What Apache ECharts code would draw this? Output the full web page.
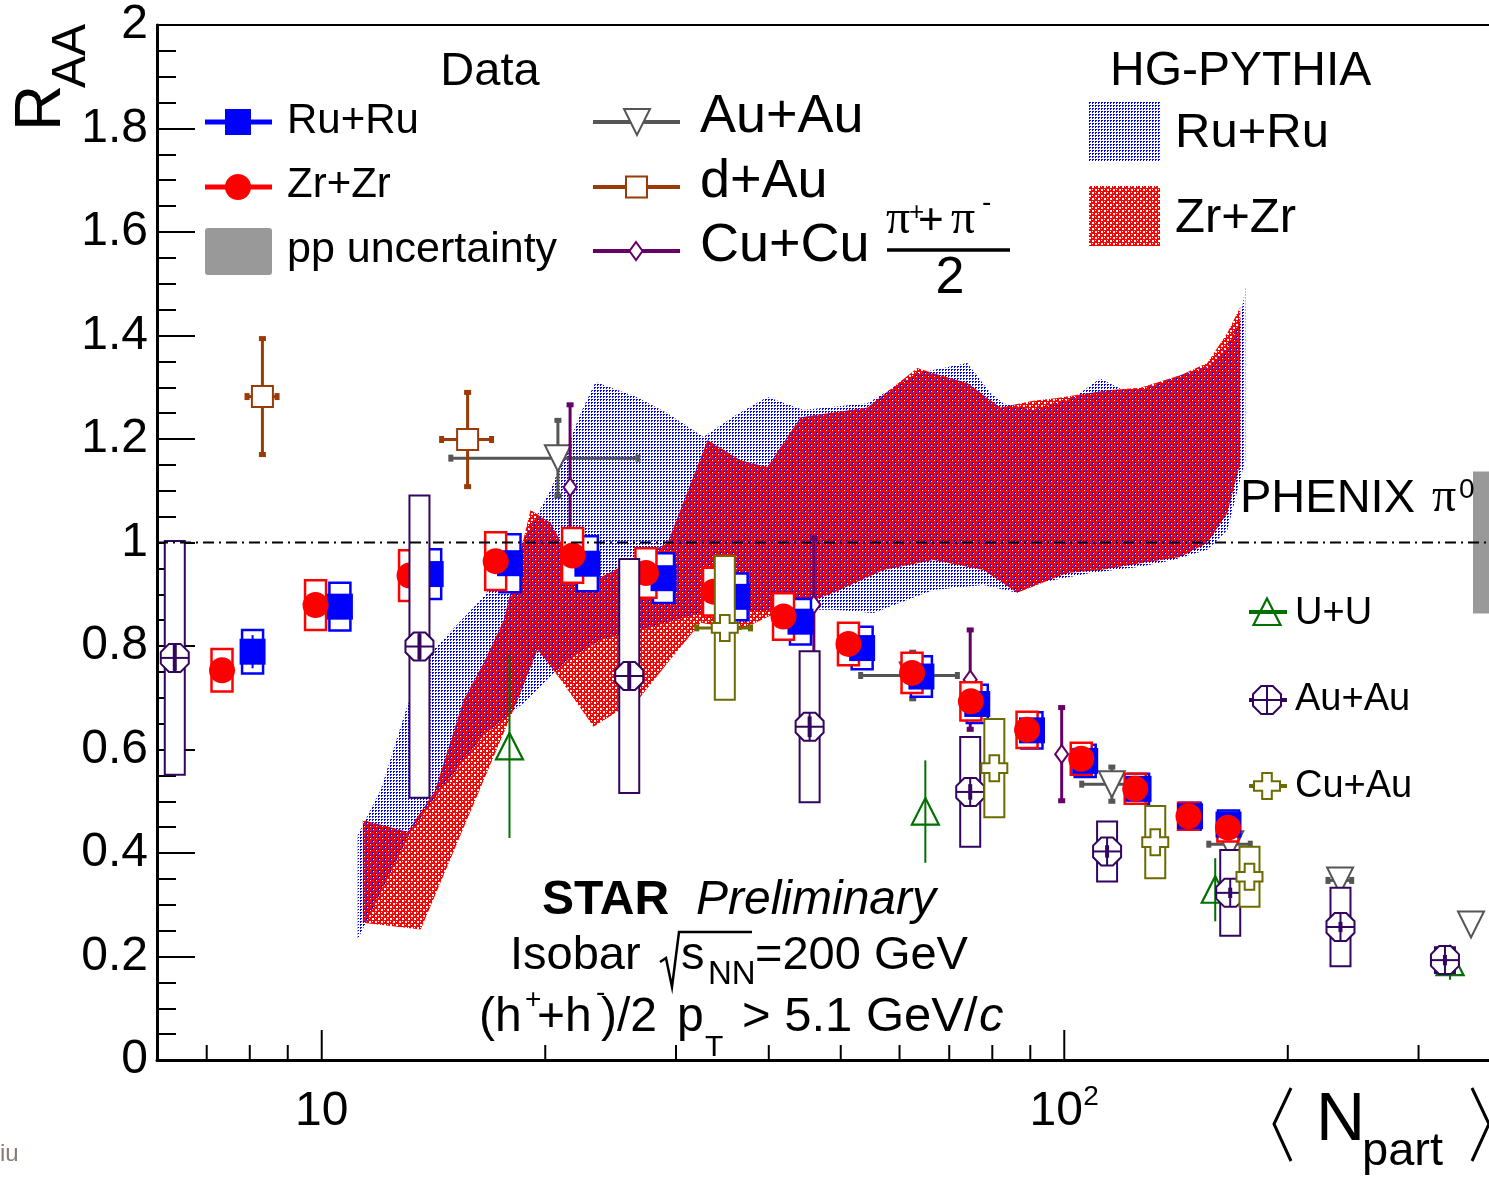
<!DOCTYPE html>
<html>
<head>
<meta charset="utf-8">
<script src="https://cdn.jsdelivr.net/npm/echarts@6/dist/echarts.min.js"></script>
<style>
  html, body { margin: 0; padding: 0; background: #ffffff; }
  #chart { width: 1489px; height: 1181px; }
</style>
</head>
<body>
<div id="chart"></div>
<script>
// ---------------- axis ranges and ticks ----------------
const xMin = 6, xMax = 385;
const yMin = 0, yMax = 2;
const xTickValues = [6, 7, 8, 9, 10, 20, 30, 40, 50, 60, 70, 80, 90, 100, 200, 300];
const xMajorTicks = [10, 100];
const xMajorLabels = ['10', '10^2'];

// ---------------- STAR isobar data (h+ + h-)/2, pT > 5.1 GeV/c ----------------
const ruNpart = [8.07, 10.58, 14.02, 17.93, 22.79, 28.86, 36.26, 44.13, 53.43, 64.21, 76.35, 90.47, 106.7, 125.9, 147.7, 166.4];
const ruRaa   = [0.789, 0.876, 0.939, 0.960, 0.959, 0.931, 0.895, 0.847, 0.796, 0.741, 0.688, 0.637, 0.578, 0.524, 0.471, 0.455];
const ruStat  = [0.032, 0.020, 0.020, 0.020, 0.020, 0.020, 0.018, 0.018, 0.016, 0.015, 0.014, 0.013, 0.012, 0.011, 0.010, 0.010];
const ruSys   = [0.042, 0.046, 0.048, 0.056, 0.053, 0.048, 0.045, 0.044, 0.041, 0.039, 0.037, 0.035, 0.031, 0.029, 0.026, 0.027];

const zrNpart = [7.34, 9.81, 13.13, 17.15, 21.77, 27.33, 33.70, 41.87, 51.21, 62.37, 74.86, 89.10, 105.4, 124.6, 147.0, 166.1];
const zrRaa   = [0.753, 0.879, 0.936, 0.964, 0.975, 0.941, 0.905, 0.857, 0.804, 0.748, 0.693, 0.638, 0.582, 0.524, 0.471, 0.449];
const zrStat  = [0.020, 0.020, 0.020, 0.020, 0.020, 0.020, 0.018, 0.018, 0.016, 0.015, 0.014, 0.013, 0.012, 0.011, 0.010, 0.010];
const zrSys   = [0.041, 0.048, 0.049, 0.056, 0.053, 0.048, 0.046, 0.045, 0.041, 0.039, 0.037, 0.035, 0.031, 0.029, 0.026, 0.027];

// ---------------- STAR reference systems ----------------
const auauNpart    = [20.8, 62.5, 115.9, 167.3, 235.2, 353.0];
const auauRaa      = [1.163, 0.743, 0.533, 0.417, 0.347, 0.262];
const auauErr      = [0.074, 0.046, 0.034, 0.030, 0.020, 0.010];
const auauNpartErr = [5.9, 9.4, 10.5, 11.0, 9.0, 0];

const dauNpart    = [8.32, 15.72];
const dauRaa      = [1.282, 1.199];
const dauErr      = [0.113, 0.092];
const dauNpartErr = [0.40, 1.24];

const cucuNpart = [21.6, 46.0, 74.7, 99.2];
const cucuRaa   = [1.107, 0.880, 0.735, 0.591];
const cucuErr   = [0.160, 0.130, 0.097, 0.091];

// ---------------- PHENIX pi0 ----------------
const uuNpart = [17.9, 65.0, 159.7, 330.8];
const uuRaa   = [0.606, 0.480, 0.329, 0.189];
const uuErr   = [0.177, 0.099, 0.061, 0.034];

const phxAuNpart = [6.34, 13.54, 25.95, 45.4, 74.7, 114.2, 167.3, 235.5, 325.6];
const phxAuRaa   = [0.777, 0.799, 0.742, 0.644, 0.518, 0.403, 0.323, 0.257, 0.193];
const phxAuStat  = [0.025, 0.025, 0.025, 0.020, 0.015, 0.012, 0.010, 0.010, 0.010];
const phxAuSys   = [0.226, 0.292, 0.226, 0.146, 0.106, 0.058, 0.083, 0.076, 0.025];

const cuauNpart    = [34.9, 80.5, 132.6, 177.6];
const cuauRaa      = [0.835, 0.564, 0.421, 0.354];
const cuauSys      = [0.139, 0.095, 0.070, 0.058];
const cuauNpartErr = [2.96, 0, 0, 0];

const phenixNormUnc = 0.137;

// ---------------- HG-PYTHIA bands: [Npart, R_AA] along upper and lower edges ----------------
const ruBandUpper = [[11.18,0.435],[12.01,0.522],[13.05,0.686],[14.15,0.793],[16.52,0.895],[18.53,0.995],[20.33,1.101],
  [22.32,1.250],[23.38,1.310],[26.54,1.281],[29.22,1.250],[32.67,1.204],[36.09,1.246],[39.83,1.281],[44.54,1.256],
  [54.31,1.269],[63.42,1.327],[74.04,1.347],[79.51,1.289],[82.78,1.269],[90.85,1.256],[102.8,1.279],[111.8,1.317],
  [120.1,1.294],[129.3,1.299],[143.3,1.323],[155.8,1.339],[165.8,1.378],[172.6,1.430],[175.3,1.493]];
const ruBandLower = [[11.18,0.233],[13.17,0.441],[14.46,0.522],[16.52,0.628],[18.94,0.696],[21.44,0.773],[23.74,0.812],
  [26.88,0.831],[32.37,0.864],[36.65,0.866],[44.13,0.870],[48.89,0.870],[55.33,0.864],[66.64,0.908],[77.81,0.918],
  [86.44,0.903],[92.83,0.922],[108.4,0.941],[126.6,0.953],[140.2,0.966],[155.8,0.986],[165.8,1.024],[175.3,1.159]];

const zrBandUpper = [[11.36,0.464],[13.05,0.441],[14.20,0.520],[15.53,0.696],[16.52,0.767],[17.58,0.850],[18.36,0.960],
  [19.11,1.063],[20.33,1.038],[21.64,0.966],[23.74,0.933],[29.22,0.999],[33.08,1.198],[36.65,1.159],[39.83,1.146],
  [44.13,1.242],[54.31,1.261],[63.42,1.337],[66.64,1.327],[74.04,1.308],[82.01,1.261],[90.85,1.274],[97.85,1.279],
  [114.3,1.294],[126.6,1.299],[143.3,1.323],[155.8,1.347],[165.8,1.405],[172.6,1.455]];
const zrBandLower = [[11.36,0.265],[13.59,0.252],[18.36,0.696],[19.53,0.793],[20.98,0.735],[23.23,0.644],[26.88,0.702],
  [29.22,0.767],[32.37,0.845],[36.65,0.831],[39.83,0.856],[48.89,0.903],[57.07,0.947],[66.64,0.966],[77.81,0.947],
  [86.44,0.903],[100.9,0.941],[111.8,0.947],[126.6,0.960],[143.3,0.972],[155.8,0.999],[165.8,1.057],[172.6,1.153]];

// ---------------- styling helpers ----------------
const SANS = '"Liberation Sans", Arial, Helvetica, sans-serif';
const SERIF = '"Liberation Serif", "Times New Roman", serif';
const C_RU = '#0000ff', C_ZR = '#ff0000', C_AUAU = '#555555', C_DAU = '#9a3a06',
      C_CUCU = '#660066', C_UU = '#007000', C_PHXAU = '#33055f', C_CUAU = '#6b6b00', C_GRAY = '#999999';

function tile(w, h, draw) {
  const c = document.createElement('canvas');
  c.width = w; c.height = h;
  draw(c.getContext('2d'));
  return c;
}
// dotted fill for the Ru+Ru model band
const bluePattern = tile(3, 3, g => {
  g.fillStyle = C_RU;
  g.fillRect(0, 0, 2, 1); g.fillRect(0, 1, 1, 1);
});
// checkered fill for the Zr+Zr model band
const redPattern = tile(6, 6, g => {
  g.fillStyle = C_ZR; g.fillRect(0, 0, 6, 6);
  g.clearRect(0, 0, 2, 2); g.clearRect(3, 3, 2, 2);
  g.clearRect(3, 0, 1, 1); g.clearRect(0, 3, 1, 1);
});

// text placed by its baseline
function txt(str, x, baseline, size, o = {}) {
  const k = o.serif ? 0.3375 : 0.3465;
  const font = (o.style ? o.style + ' ' : '') + size + 'px ' + (o.serif ? SERIF : SANS);
  const al = o.align || 'left';
  return {
    type: 'text', x: x, y: baseline - k * size, z: 100,
    style: { text: str, font: font, fill: o.color || '#000', align: al, textAlign: al,
             verticalAlign: 'middle', textVerticalAlign: 'middle' }
  };
}

function line(x1, y1, x2, y2, color, lw) {
  return { type: 'line', shape: { x1, y1, x2, y2 }, style: { stroke: color, lineWidth: lw } };
}

function markerShapes(kind, cx, cy, color) {
  const W = '#ffffff';
  switch (kind) {
    case 'square':
      return [{ type: 'rect', shape: { x: cx - 13, y: cy - 13, width: 26, height: 26 }, style: { fill: color } }];
    case 'dot':
      return [{ type: 'circle', shape: { cx, cy, r: 13 }, style: { fill: color } }];
    case 'triDown':
      return [{ type: 'polygon', shape: { points: [[cx - 13, cy - 13], [cx + 13, cy - 13], [cx, cy + 13]] },
                style: { fill: W, stroke: color, lineWidth: 2 } }];
    case 'openSquare':
      return [{ type: 'rect', shape: { x: cx - 10.5, y: cy - 10.5, width: 21, height: 21 },
                style: { fill: W, stroke: color, lineWidth: 2 } }];
    case 'diamond':
      return [{ type: 'polygon', shape: { points: [[cx, cy - 9], [cx + 6.5, cy], [cx, cy + 9], [cx - 6.5, cy]] },
                style: { fill: W, stroke: color, lineWidth: 2 } }];
    case 'triUp':
      return [{ type: 'polygon', shape: { points: [[cx, cy - 13.5], [cx + 13.5, cy + 13], [cx - 13.5, cy + 13]] },
                style: { fill: 'none', stroke: color, lineWidth: 2.2 } }];
    case 'circlePlus': {
      const r = 14, a = r * 0.4142;
      return [
        { type: 'polygon', shape: { points: [[cx - a, cy - r], [cx + a, cy - r], [cx + r, cy - a], [cx + r, cy + a],
            [cx + a, cy + r], [cx - a, cy + r], [cx - r, cy + a], [cx - r, cy - a]] },
          style: { fill: W, stroke: color, lineWidth: 2 } },
        line(cx - r, cy, cx + r, cy, color, 2),
        line(cx, cy - r, cx, cy + r, color, 2)
      ];
    }
    case 'openCross': {
      const a = 4.8, r = 13;
      return [{ type: 'polygon', shape: { points: [[cx - a, cy - r], [cx + a, cy - r], [cx + a, cy - a], [cx + r, cy - a],
          [cx + r, cy + a], [cx + a, cy + a], [cx + a, cy + r], [cx - a, cy + r], [cx - a, cy + a], [cx - r, cy + a],
          [cx - r, cy - a], [cx - a, cy - a]] },
        style: { fill: W, stroke: color, lineWidth: 2 } }];
    }
  }
  return [];
}

function rows(npart, raa, stat, sys, xerr) {
  return npart.map((v, i) => [v, raa[i], stat ? stat[i] : 0, sys ? sys[i] : 0, xerr ? xerr[i] : 0]);
}

// one custom series per data set; cfg holds only drawing style
function pointSeries(name, data, cfg) {
  return {
    name, type: 'custom', coordinateSystem: 'cartesian2d', data, silent: true, animation: false,
    encode: { x: 0, y: 1 },
    renderItem(params, api) {
      const x = api.value(0), y = api.value(1), stat = api.value(2), sys = api.value(3), xe = api.value(4);
      const c = api.coord([x, y]);
      const kids = [];
      if (cfg.box && sys > 0) {
        const t = api.coord([x, y + sys])[1], b = api.coord([x, y - sys])[1];
        kids.push({ type: 'rect', shape: { x: c[0] - cfg.box, y: t, width: cfg.box * 2, height: b - t },
                    style: { fill: '#ffffff', stroke: cfg.color, lineWidth: cfg.boxWidth || 2 } });
      }
      if (cfg.err && stat > 0) {
        const t = api.coord([x, y + stat])[1], b = api.coord([x, y - stat])[1];
        kids.push(line(c[0], t, c[0], b, cfg.color, cfg.err));
        if (cfg.caps) {
          kids.push({ type: 'rect', shape: { x: c[0] - 3.5, y: t - 2, width: 7, height: 5 }, style: { fill: cfg.color } });
          kids.push({ type: 'rect', shape: { x: c[0] - 3.5, y: b - 3, width: 7, height: 5 }, style: { fill: cfg.color } });
        }
      }
      if (cfg.err && xe > 0) {
        const l = api.coord([x - xe, y])[0], r = api.coord([x + xe, y])[0];
        kids.push(line(l, c[1], r, c[1], cfg.color, cfg.err));
        if (cfg.caps) {
          kids.push({ type: 'rect', shape: { x: l - 2, y: c[1] - 3.5, width: 5, height: 7 }, style: { fill: cfg.color } });
          kids.push({ type: 'rect', shape: { x: r - 3, y: c[1] - 3.5, width: 5, height: 7 }, style: { fill: cfg.color } });
        }
      }
      if (cfg.marker) kids.push(...markerShapes(cfg.marker, c[0], c[1], cfg.color));
      if (cfg.innerStat && stat > 0) {
        const t = api.coord([x, y + stat])[1], b = api.coord([x, y - stat])[1];
        kids.push(line(c[0], t, c[0], b, cfg.color, 4));
      }
      return { type: 'group', children: kids };
    }
  };
}

function bandSeries(name, upper, lower, pattern) {
  const ring = upper.concat(lower.slice().reverse());
  return {
    name, type: 'custom', coordinateSystem: 'cartesian2d', data: ring, silent: true, animation: false,
    encode: { x: 0, y: 1 },
    renderItem(params, api) {
      if (params.dataIndex !== 0) return null;
      return { type: 'polygon', shape: { points: ring.map(p => api.coord(p)) },
               style: { fill: { image: pattern, repeat: 'repeat' } } };
    }
  };
}

// ---------------- x-axis ticks and labels (log scale) ----------------
const xTickSeries = {
  type: 'custom', coordinateSystem: 'cartesian2d', silent: true, animation: false, clip: false,
  data: xTickValues.map(v => [v, yMin]), encode: { x: 0, y: 1 },
  renderItem(params, api) {
    const v = api.value(0);
    const c = api.coord([v, yMin]);
    const mi = xMajorTicks.indexOf(v);
    const kids = [line(c[0], c[1], c[0], c[1] - (mi >= 0 ? 30 : 15), '#000', 2)];
    if (mi >= 0) {
      const parts = xMajorLabels[mi].split('^');
      if (parts.length === 1) {
        kids.push(txt(parts[0], c[0], c[1] + 68, 48, { align: 'center' }));
      } else {
        kids.push(txt(parts[0], c[0] - 8, c[1] + 68, 48, { align: 'center' }));
        kids.push(txt(parts[1], c[0] + 19, c[1] + 47, 28));
      }
    }
    return { type: 'group', children: kids };
  }
};

// ---------------- PHENIX normalisation box at unity, right edge ----------------
const phenixBoxSeries = {
  type: 'custom', coordinateSystem: 'cartesian2d', silent: true, animation: false,
  data: [[xMax, 1, phenixNormUnc]], encode: { x: 0, y: 1 },
  renderItem(params, api) {
    const cs = params.coordSys;
    const u = api.value(2);
    const t = api.coord([xMax, 1 + u])[1], b = api.coord([xMax, 1 - u])[1];
    return { type: 'rect', shape: { x: cs.x + cs.width - 26, y: t, width: 26, height: b - t }, style: { fill: C_GRAY } };
  }
};

// ---------------- legends, labels, annotations ----------------
const g = [];
function add(els) { els.forEach(e => { e.z = 100; g.push(e); }); }

// Y title R_AA (rotated)
g.push({ type: 'text', x: 42, y: 131, rotation: Math.PI / 2, z: 100,
  style: { text: 'R', font: '64px ' + SANS, fill: '#000', align: 'left', textAlign: 'left', verticalAlign: 'middle', textVerticalAlign: 'middle' } });
g.push({ type: 'text', x: 72, y: 88, rotation: Math.PI / 2, z: 100,
  style: { text: 'AA', font: '48px ' + SANS, fill: '#000', align: 'left', textAlign: 'left', verticalAlign: 'middle', textVerticalAlign: 'middle' } });

// X title < N_part >
add([{ type: 'polyline', shape: { points: [[1291, 1088], [1274, 1124], [1291, 1161]] }, style: { stroke: '#000', lineWidth: 3, fill: 'none' } },
     { type: 'polyline', shape: { points: [[1472, 1088], [1489, 1124], [1472, 1161]] }, style: { stroke: '#000', lineWidth: 3, fill: 'none' } }]);
g.push(txt('N', 1316, 1145, 68));
g.push(txt('part', 1362, 1168, 47));

// Data legend (left column)
g.push(txt('Data', 490, 88, 47, { align: 'center' }));
add([line(205, 122, 272, 122, C_RU, 5), ...markerShapes('square', 238, 122, C_RU)]);
add([line(205, 187, 272, 187, C_ZR, 5), ...markerShapes('dot', 238, 187, C_ZR)]);
add([{ type: 'rect', shape: { x: 205, y: 228, width: 67, height: 47, r: 3 }, style: { fill: C_GRAY } }]);
g.push(txt('Ru+Ru', 287, 136, 42));
g.push(txt('Zr+Zr', 287, 200, 42));
g.push(txt('pp uncertainty', 287, 265, 43));

// Data legend (middle column)
add([line(593, 122, 680, 122, C_AUAU, 4), ...markerShapes('triDown', 637, 122, C_AUAU)]);
add([line(593, 187, 680, 187, C_DAU, 4), ...markerShapes('openSquare', 636.5, 187, C_DAU)]);
add([line(593, 251, 680, 251, C_CUCU, 4), ...markerShapes('diamond', 636, 251, C_CUCU)]);
g.push(txt('Au+Au', 700, 136, 54));
g.push(txt('d+Au', 700, 201, 54));
g.push(txt('Cu+Cu', 700, 265, 54));
g.push(txt('\u03C0', 886, 237, 48, { serif: true }));
g.push(txt('+', 909, 222, 26));
g.push(txt('+', 918, 237, 44));
g.push(txt('\u03C0', 951, 237, 48, { serif: true }));
g.push(txt('-', 982, 213, 28));
add([line(887, 250, 1010, 250, '#000', 3.5)]);
g.push(txt('2', 950, 297, 52, { align: 'center' }));

// HG-PYTHIA legend
g.push(txt('HG-PYTHIA', 1110, 88, 48));
add([{ type: 'rect', shape: { x: 1089, y: 102, width: 71, height: 60 }, style: { fill: { image: bluePattern, repeat: 'repeat' } } },
     { type: 'rect', shape: { x: 1089, y: 186, width: 71, height: 60 }, style: { fill: { image: redPattern, repeat: 'repeat' } } }]);
g.push(txt('Ru+Ru', 1175, 150, 49));
g.push(txt('Zr+Zr', 1175, 235, 49));

// PHENIX legend
g.push(txt('PHENIX', 1240, 515, 47));
g.push(txt('\u03C0', 1432, 515, 48, { serif: true }));
g.push(txt('0', 1459, 500, 28));
add([line(1249, 612, 1287, 612, C_UU, 4), ...markerShapes('triUp', 1267, 612, C_UU)]);
add([line(1249, 700, 1287, 700, C_PHXAU, 4), ...markerShapes('circlePlus', 1267, 700, C_PHXAU)]);
add([line(1249, 786, 1287, 786, C_CUAU, 4), ...markerShapes('openCross', 1267, 786, C_CUAU)]);
g.push(txt('U+U', 1295, 627, 38));
g.push(txt('Au+Au', 1295, 713, 38));
g.push(txt('Cu+Au', 1295, 800, 38));

// STAR label block
g.push(txt('STAR', 542, 917, 48, { style: 'bold' }));
g.push(txt('Preliminary', 696, 917, 48, { style: 'italic' }));
g.push(txt('Isobar', 510, 972, 47));
add([{ type: 'polyline', shape: { points: [[660, 962], [666, 958], [672, 987], [679, 932], [752, 932]] },
       style: { stroke: '#000', lineWidth: 2.5, fill: 'none' } }]);
g.push(txt('s', 681, 972, 47));
g.push(txt('NN', 708, 986, 33));
g.push(txt('=200 GeV', 755, 972, 47));
g.push(txt('(h', 479, 1034, 48));
g.push(txt('+', 525, 1010, 28));
g.push(txt('+h', 537, 1034, 48));
g.push(txt('-', 596, 1003, 28));
g.push(txt(')/2', 601, 1034, 48));
g.push(txt('p', 677, 1034, 48));
g.push(txt('T', 705, 1058, 30));
g.push(txt('> 5.1 GeV/', 742, 1034, 49));
g.push(txt('c', 979, 1034, 49, { style: 'italic' }));
g.push(txt('iu', 0, 1163, 24, { color: '#8a7a74' }));

// ---------------- chart ----------------
const chart = echarts.init(document.getElementById('chart'), null, { renderer: 'canvas' });
chart.setOption({
  animation: false,
  backgroundColor: '#ffffff',
  grid: { left: 157, top: 25, right: -10, bottom: 121, outerBoundsMode: 'none', containLabel: false,
          show: true, borderColor: '#000', borderWidth: 2, backgroundColor: 'transparent' },
  xAxis: {
    type: 'log', logBase: 10, min: xMin, max: xMax,
    axisLine: { show: true, onZero: false, lineStyle: { color: '#000', width: 3 } },
    axisTick: { show: false }, axisLabel: { show: false }, splitLine: { show: false }
  },
  yAxis: {
    type: 'value', min: yMin, max: yMax, interval: 0.2,
    axisLine: { show: true, lineStyle: { color: '#000', width: 3 } },
    axisTick: { show: true, inside: true, length: 38, lineStyle: { color: '#000', width: 2 } },
    minorTick: { show: true, splitNumber: 4, length: 19, lineStyle: { color: '#000', width: 2 } },
    axisLabel: { fontSize: 48, fontFamily: SANS, color: '#000', margin: 9 },
    splitLine: { show: false }
  },
  series: [
    bandSeries('HG-PYTHIA Ru+Ru', ruBandUpper, ruBandLower, bluePattern),
    bandSeries('HG-PYTHIA Zr+Zr', zrBandUpper, zrBandLower, redPattern),
    xTickSeries,
    pointSeries('Au+Au', rows(auauNpart, auauRaa, auauErr, null, auauNpartErr), { marker: 'triDown', color: C_AUAU, err: 3, caps: true }),
    pointSeries('d+Au', rows(dauNpart, dauRaa, dauErr, null, dauNpartErr), { marker: 'openSquare', color: C_DAU, err: 3, caps: true }),
    pointSeries('Cu+Cu', rows(cucuNpart, cucuRaa, cucuErr), { marker: 'diamond', color: C_CUCU, err: 3, caps: true }),
    pointSeries('Ru+Ru syst', rows(ruNpart, ruRaa, null, ruSys), { box: 10.5, boxWidth: 2.5, color: C_RU }),
    pointSeries('Zr+Zr syst', rows(zrNpart, zrRaa, null, zrSys), { box: 10.5, boxWidth: 2.5, color: C_ZR }),
    pointSeries('Ru+Ru', rows(ruNpart, ruRaa, ruStat), { marker: 'square', color: C_RU, err: 2 }),
    pointSeries('Zr+Zr', rows(zrNpart, zrRaa, zrStat), { marker: 'dot', color: C_ZR, err: 2 }),
    pointSeries('U+U', rows(uuNpart, uuRaa, uuErr), { marker: 'triUp', color: C_UU, err: 2 }),
    pointSeries('PHENIX Au+Au', rows(phxAuNpart, phxAuRaa, phxAuStat, phxAuSys), { box: 10, boxWidth: 2, marker: 'circlePlus', innerStat: true, color: C_PHXAU }),
    pointSeries('Cu+Au', rows(cuauNpart, cuauRaa, null, cuauSys, cuauNpartErr), { box: 10, boxWidth: 2, marker: 'openCross', err: 3, caps: true, color: C_CUAU }),
    { type: 'line', data: [[xMin, 1], [xMax, 1]], symbol: 'none', silent: true, animation: false,
      lineStyle: { color: '#000', width: 2, type: [11, 5, 2, 5] } },
    phenixBoxSeries
  ],
  graphic: { elements: g }
});
</script>
</body>
</html>
